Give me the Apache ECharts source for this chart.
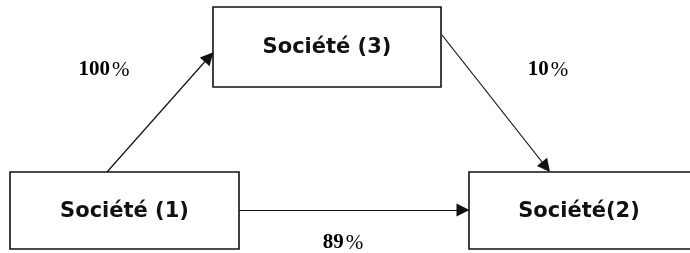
<!DOCTYPE html>
<html>
<head>
<meta charset="utf-8">
<script src="https://cdn.jsdelivr.net/npm/echarts@6/dist/echarts.min.js"></script>
<style>
html, body { margin: 0; padding: 0; background: #fff; }
#main { width: 690px; height: 253px; }
</style>
</head>
<body>
<div id="main"></div>
<script>
// sociétés et participations
var societes = ['Société (1)', 'Société(2)', 'Société (3)'];
var liens_source = [0, 2, 0];
var liens_cible = [2, 1, 1];
var pourcentages = ['100', '10', '89'];

// mise en page (pixels, repere 690x253)
var boites = [[10, 172, 239, 249], [469, 172, 700, 249], [213, 7, 441, 87]];
var fleches = [[[107, 172], [209, 57]], [[442, 35], [546, 167]], [[239, 210], [463, 210]]];
var etiquettes = [[104, 70], [548, 70], [343, 243]];

var myChart = echarts.init(document.getElementById('main'));

var boxData = societes.map(function (nom, i) {
    return [boites[i][0], boites[i][1], boites[i][2], boites[i][3], nom];
});
var lineData = liens_source.map(function (s, i) {
    return { coords: fleches[i] };
});
var labelData = pourcentages.map(function (p, i) {
    return [etiquettes[i][0], etiquettes[i][1]];
});

var option = {
    animation: false,
    backgroundColor: '#fff',
    grid: { left: 0, right: 0, top: 0, bottom: 0 },
    xAxis: { type: 'value', min: 0, max: 690, show: false },
    yAxis: { type: 'value', min: 0, max: 253, inverse: true, show: false },
    series: [
        {
            type: 'custom',
            coordinateSystem: 'cartesian2d',
            data: boxData,
            renderItem: function (params, api) {
                var p0 = api.coord([api.value(0), api.value(1)]);
                var p1 = api.coord([api.value(2), api.value(3)]);
                var nom = societes[params.dataIndex];
                return {
                    type: 'group',
                    children: [
                        {
                            type: 'rect',
                            shape: { x: p0[0], y: p0[1], width: p1[0] - p0[0], height: p1[1] - p0[1] },
                            style: { fill: '#fff', stroke: '#111', lineWidth: 1.6 }
                        },
                        {
                            type: 'text',
                            x: params.dataIndex === 1 ? 579 : (p0[0] + p1[0]) / 2,
                            y: (p0[1] + p1[1]) / 2 + 1,
                            style: {
                                text: nom,
                                fill: '#111',
                                font: 'bold 21px "DejaVu Sans"',
                                align: 'center',
                                verticalAlign: 'middle'
                            }
                        }
                    ]
                };
            }
        },
        {
            type: 'lines',
            coordinateSystem: 'cartesian2d',
            symbol: ['none', 'triangle'],
            symbolSize: [11, 13],
            lineStyle: { color: '#111', width: 1.2, opacity: 1 },
            data: lineData,
            z: 3
        },
        {
            type: 'custom',
            coordinateSystem: 'cartesian2d',
            data: labelData,
            renderItem: function (params, api) {
                var p = api.coord([api.value(0), api.value(1)]);
                return {
                    type: 'text',
                    x: p[0],
                    y: p[1],
                    style: {
                        text: '{n|' + pourcentages[params.dataIndex] + '}{p|%}',
                        align: 'center',
                        verticalAlign: 'middle',
                        rich: {
                            n: { fontFamily: 'Liberation Serif', fontWeight: 'bold', fontSize: 21, fill: '#000' },
                            p: { fontFamily: 'Liberation Serif', fontSize: 21, fill: '#000', padding: [0, 0, 0, 2] }
                        }
                    }
                };
            }
        }
    ]
};

myChart.setOption(option);
</script>
</body>
</html>
